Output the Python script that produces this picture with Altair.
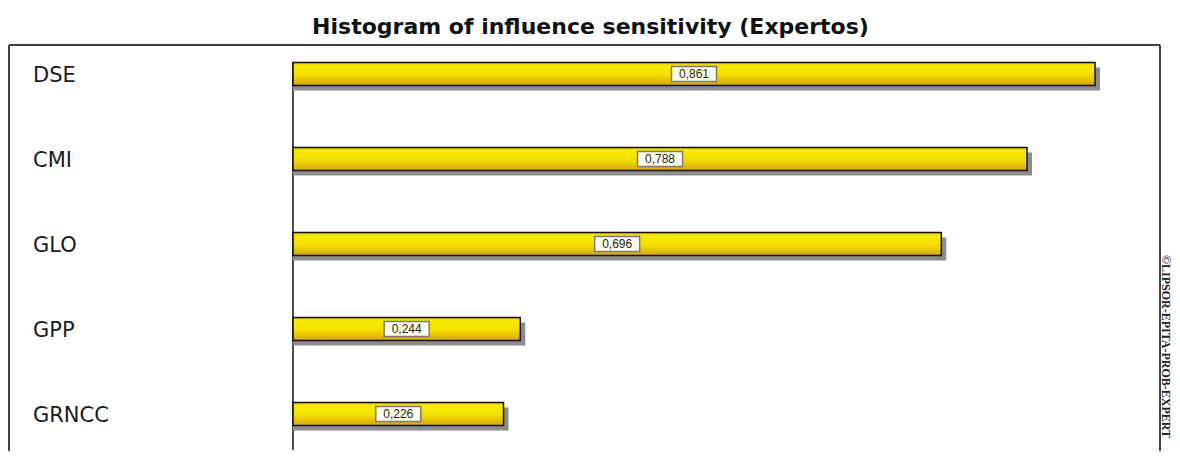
import altair as alt
import pandas as pd

cats = ["DSE", "CMI", "GLO", "GPP", "GRNCC"]
vals = [0.861, 0.788, 0.696, 0.244, 0.226]
title_text = "Histogram of influence sensitivity (Expertos)"
credit = "©LIPSOR-EPITA-PROB-EXPERT"

df = pd.DataFrame({"cat": cats, "v": vals})

W, H = 1151, 406

xscale = alt.Scale(domain=[-0.30489, 0.93076], nice=False, zero=False)
yscale = alt.Scale(domain=cats, range=[-13.5, 411.5], paddingInner=0, paddingOuter=0)

X = alt.X("v:Q", scale=xscale, axis=None)
Y = alt.Y("cat:N", scale=yscale, axis=None, sort=cats)

base = alt.Chart(df)

gradient = alt.Gradient(
    gradient="linear",
    stops=[
        alt.GradientStop(color="#e8cc00", offset=0),
        alt.GradientStop(color="#f8ec00", offset=0.15),
        alt.GradientStop(color="#f2de00", offset=0.55),
        alt.GradientStop(color="#d6a40e", offset=1),
    ],
    x1=0, x2=0, y1=0, y2=1,
)

shadow = base.mark_bar(size=23, color="#8c8c8c", xOffset=5, yOffset=5).encode(
    x=X, x2=alt.datum(0), y=Y
)
bars = base.mark_bar(size=23, color=gradient, stroke="#111111", strokeWidth=1.5).encode(
    x=X, x2=alt.datum(0), y=Y
)

axis_line = alt.Chart(pd.DataFrame({"z": [0]})).mark_rule(color="#111111", strokeWidth=1.5).encode(
    x=alt.X("z:Q", scale=xscale, axis=None), y=alt.value(17), y2=alt.value(405)
)

lab = base.transform_calculate(
    mid="datum.v / 2",
    lab="replace(format(datum.v, '.3f'), '.', ',')",
)
boxes = lab.mark_point(
    shape="M-1,-0.333H1V0.333H-1Z", size=2025, filled=True, fill="#ffffea",
    stroke="#7a7a7a", strokeWidth=1.5, opacity=1, fillOpacity=1,
).encode(x=alt.X("mid:Q", scale=xscale, axis=None), y=Y)
texts = lab.mark_text(fontSize=12, font="Liberation Sans", color="#222222").encode(
    x=alt.X("mid:Q", scale=xscale, axis=None), y=Y, text="lab:N"
)

cat_labels = base.mark_text(
    align="left", baseline="middle", fontSize=21, font="DejaVu Sans", color="#1a1a1a", dy=1.5
).encode(x=alt.value(24), y=Y, text="cat:N")

dummy = alt.Chart(pd.DataFrame({"d": [0]}))
frame_left = dummy.mark_rule(color="#404040", strokeWidth=2).encode(
    x=alt.value(0), y=alt.value(0), y2=alt.value(H)
)
frame_top = dummy.mark_rule(color="#404040", strokeWidth=2).encode(
    x=alt.value(0), x2=alt.value(W), y=alt.value(0)
)
frame_right = dummy.mark_rule(color="#404040", strokeWidth=2).encode(
    x=alt.value(W), y=alt.value(0), y2=alt.value(H)
)

credit_txt = alt.Chart(pd.DataFrame({"t": [credit]})).mark_text(
    angle=90, align="left", baseline="middle", fontSize=12, font="Liberation Serif",
    fontWeight="bold", color="#222222"
).encode(x=alt.value(1156.5), y=alt.value(210), text="t:N")

chart = alt.layer(
    frame_left, frame_top, frame_right, axis_line, shadow, bars, boxes, texts, cat_labels, credit_txt
).properties(
    width=W,
    height=H,
    autosize=alt.AutoSizeParams(type="none"),
    padding={"left": 1, "top": 37, "right": 12, "bottom": 0},
    title=alt.TitleParams(
        title_text, fontSize=22, font="DejaVu Sans", fontWeight="bold",
        anchor="middle", offset=5, color="#111111", dx=6,
    ),
).configure_view(stroke=None)

chart.save("out.html", embed_options={"renderer": "svg", "actions": False})
